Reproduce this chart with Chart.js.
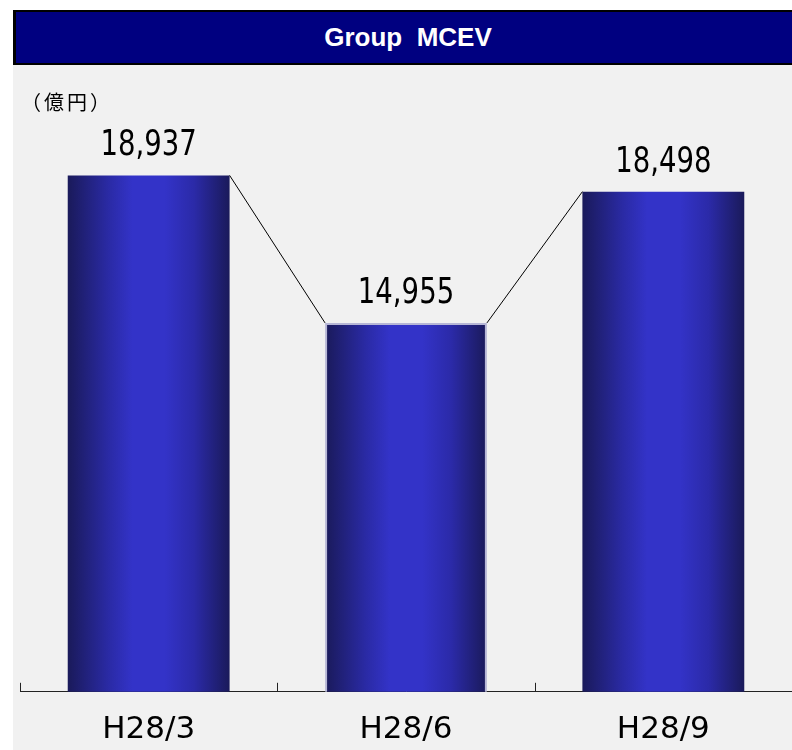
<!DOCTYPE html>
<html>
<head>
<meta charset="utf-8">
<script src="https://cdn.jsdelivr.net/npm/chart.js@4"></script>
<style>
  html, body { margin: 0; padding: 0; background: #fff; }
  body { width: 792px; height: 750px; position: relative; overflow: hidden; }
  #panel { position: absolute; left: 13px; top: 10px; width: 779px; height: 740px; background: #f1f1f1; }
  #title {
    height: 51px; background: #000080; color: #fff;
    border-top: 2px solid #000; border-bottom: 2px solid #000; border-left: 3px solid #000;
    font: bold 26px "Liberation Sans", Arial, sans-serif; line-height: 51px;
    text-align: center; white-space: pre; box-sizing: content-box; padding-left: 8px;
  }
  #unit { position: absolute; left: 8px; top: 77px; font: 20px "Noto Sans CJK JP", sans-serif; letter-spacing: 3px; color: #000; }
  #wrap { position: absolute; left: 0; top: 55px; width: 779px; height: 707px; }
</style>
</head>
<body>
<div id="panel">
  <div id="title">Group  MCEV</div>
  <div id="wrap"><canvas id="chart"></canvas></div>
  <div id="unit">（億円）</div>
</div>
<script>
// データ
const categories = ['H28/3', 'H28/6', 'H28/9'];
const mcevValues = [18937, 14955, 18498];
const yMin = 5000;
const yMax = 20000;

const barPct = 0.629;

// 横方向グラデーション（棒ごと）
function barGradient(c) {
    const chart = c.chart;
    const xs = chart.scales.x;
    if (!xs || c.dataIndex === undefined) return '#3232c8';
    const cx = xs.getPixelForValue(c.dataIndex);
    const half = xs.width / categories.length * barPct / 2;
    if (!isFinite(cx) || !isFinite(half) || half <= 0) return '#3232c8';
    const g = chart.ctx.createLinearGradient(cx - half, 0, cx + half, 0);
    g.addColorStop(0, '#1a1a5a');
    g.addColorStop(0.25, '#2a2aa4');
    g.addColorStop(0.4, '#3333c8');
    g.addColorStop(0.6, '#3333c8');
    g.addColorStop(0.78, '#2b2aa8');
    g.addColorStop(1, '#1a1a5a');
    return g;
}

// 棒をつなぐ線・値ラベル・目盛り
const extras = {
    id: 'extras',
    afterDatasetsDraw(chart) {
        const ctx = chart.ctx;
        const bars = chart.getDatasetMeta(0).data;
        ctx.save();
        ctx.strokeStyle = '#000';
        ctx.lineWidth = 1;
        for (let i = 0; i < bars.length - 1; i++) {
            const a = bars[i], b = bars[i + 1];
            ctx.beginPath();
            ctx.moveTo(a.x + a.width / 2, a.y);
            ctx.lineTo(b.x - b.width / 2, b.y);
            ctx.stroke();
        }
        ctx.fillStyle = '#000';
        ctx.font = '36px "DejaVu Sans Condensed", "DejaVu Sans", sans-serif';
        ctx.textAlign = 'center';
        ctx.textBaseline = 'alphabetic';
        bars.forEach((bar, i) => {
            ctx.save();
            ctx.translate(bar.x, bar.y - 20);
            ctx.scale(0.85, 1);
            ctx.fillText(mcevValues[i].toLocaleString('en-US'), 0, 0);
            ctx.restore();
        });
        ctx.restore();
    },
    afterDraw(chart) {
        const ctx = chart.ctx;
        const xs = chart.scales.x;
        const step = xs.width / categories.length;
        const y = chart.chartArea.bottom;
        ctx.save();
        ctx.strokeStyle = '#222';
        ctx.lineWidth = 1;
        for (let i = 0; i <= categories.length; i++) {
            const x = Math.round(xs.getPixelForValue(0) - step / 2 + step * i) + 0.5;
            ctx.beginPath();
            ctx.moveTo(x, y);
            ctx.lineTo(x, y - 9);
            ctx.stroke();
        }
        ctx.restore();
    }
};

new Chart(document.getElementById('chart'), {
    type: 'bar',
    data: {
        labels: categories,
        datasets: [{
            data: mcevValues,
            backgroundColor: barGradient,
            borderColor: '#b6b6d6',
            borderWidth: (c) => c.dataIndex === 1 ? 2 : 0,
            borderSkipped: 'bottom',
            barPercentage: barPct,
            categoryPercentage: 1
        }]
    },
    options: {
        responsive: true,
        maintainAspectRatio: false,
        animation: false,
        layout: { padding: { left: 7, right: 0, top: 71, bottom: 3 } },
        plugins: { legend: { display: false }, tooltip: { enabled: false } },
        scales: {
            x: {
                grid: { display: true, drawOnChartArea: false, drawTicks: false },
                border: { display: true, color: '#222', width: 1 },
                ticks: {
                    color: '#000',
                    padding: 20,
                    font: { family: '"DejaVu Sans", sans-serif', size: 31 }
                }
            },
            y: {
                display: false,
                min: yMin,
                max: yMax
            }
        }
    },
    plugins: [extras]
});
</script>
</body>
</html>
